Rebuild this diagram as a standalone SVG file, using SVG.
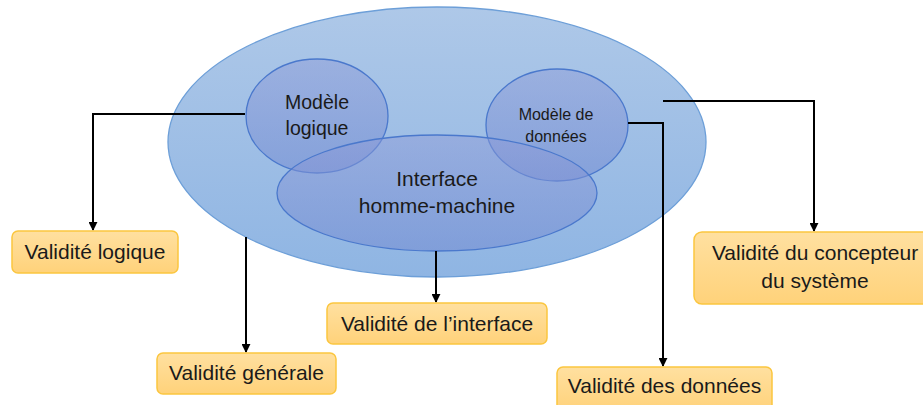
<svg xmlns="http://www.w3.org/2000/svg" width="923" height="405" viewBox="0 0 923 405">
<defs>
<linearGradient id="gBig" x1="0" y1="0" x2="0" y2="1">
<stop offset="0" stop-color="#aec8e8"/>
<stop offset="1" stop-color="#8fb5e3"/>
</linearGradient>
<linearGradient id="gIn" x1="0" y1="0" x2="0" y2="1">
<stop offset="0" stop-color="#8e9cd8"/>
<stop offset="1" stop-color="#6f86d0"/>
</linearGradient>
<linearGradient id="gBox" x1="0" y1="0" x2="0" y2="1">
<stop offset="0" stop-color="#ffe0a0"/>
<stop offset="1" stop-color="#ffd27a"/>
</linearGradient>
<marker id="arr" viewBox="0 0 10 10" refX="9" refY="5" markerWidth="4.5" markerHeight="4.5" orient="auto" markerUnits="strokeWidth">
<path d="M0,0 L10,5 L0,10 z" fill="#000"/>
</marker>
</defs>
<style>
.inner{fill:url(#gIn);fill-opacity:0.5;stroke:#4a78cc;stroke-width:1.3}
.box{fill:url(#gBox);stroke:#fbc63f;stroke-width:1.5}
.t{font-family:"Liberation Sans",Arial,sans-serif;fill:#1a1a1a;text-anchor:middle}
.b{font-size:21px}
.conn{fill:none;stroke:#000;stroke-width:2;marker-end:url(#arr)}
</style>
<rect width="923" height="405" fill="#fff"/>
<g id="system">
<ellipse cx="437" cy="142" rx="269" ry="135" fill="url(#gBig)" stroke="#6d9fd8" stroke-width="1.3"/>
</g>
<g id="modele-logique">
<ellipse class="inner" cx="317" cy="116" rx="71" ry="57"/>
<text class="t" x="317" y="109" font-size="19.5">Modèle</text>
<text class="t" x="317" y="135" font-size="19.5">logique</text>
</g>
<g id="modele-donnees">
<ellipse class="inner" cx="557" cy="125" rx="71" ry="56"/>
<text class="t" x="556" y="120" font-size="16">Modèle de</text>
<text class="t" x="556" y="142" font-size="16">données</text>
</g>
<g id="ihm">
<ellipse class="inner" cx="437" cy="193" rx="160" ry="58"/>
<text class="t" x="437" y="186" font-size="21">Interface</text>
<text class="t" x="437" y="213" font-size="21">homme-machine</text>
</g>
<g id="connectors">
<path class="conn" d="M245,114 H93 V230"/>
<path class="conn" d="M246,237 V352"/>
<path class="conn" d="M436,251 V302"/>
<path class="conn" d="M628,123 H663 V366"/>
<path class="conn" d="M663,101 H814 V231"/>
</g>
<g id="validite-logique">
<rect class="box" x="12" y="231" width="166" height="42" rx="6"/>
<text class="t b" x="95" y="259">Validité logique</text>
</g>
<g id="validite-generale">
<rect class="box" x="157" y="353" width="179" height="41" rx="6"/>
<text class="t b" x="246.5" y="380">Validité générale</text>
</g>
<g id="validite-interface">
<rect class="box" x="327" y="303" width="220" height="41" rx="6"/>
<text class="t b" x="437" y="331">Validité de l’interface</text>
</g>
<g id="validite-concepteur">
<rect class="box" x="694" y="232" width="242" height="72" rx="8"/>
<text class="t b" x="815" y="260">Validité du concepteur</text>
<text class="t b" x="815" y="288">du système</text>
</g>
<g id="validite-donnees">
<rect class="box" x="557" y="367" width="215" height="44" rx="6"/>
<text class="t b" x="664.5" y="393">Validité des données</text>
</g>
</svg>
